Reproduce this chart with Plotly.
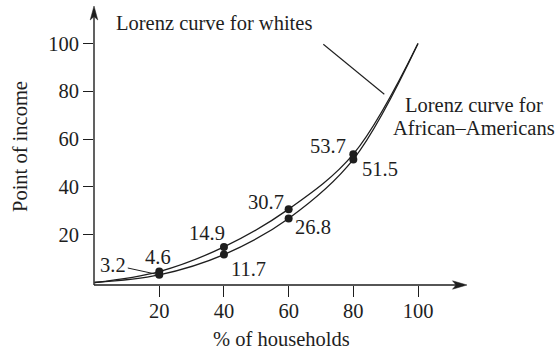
import plotly.graph_objects as go

# Cumulative share of income received by the poorest x% of households
pct_households = [0, 20, 40, 60, 80, 100]
income_whites = [0, 4.6, 14.9, 30.7, 53.7, 100]
income_black = [0, 3.2, 11.7, 26.8, 51.5, 100]
x_ticks = [20, 40, 60, 80, 100]
y_ticks = [20, 40, 60, 80, 100]

INK = "#1e1e1e"
FONT = "Liberation Serif"
FS = 20.5

W, H = 559, 350
ML, MR, MT, MB = 94, 89, 6, 65
PW, PH = W - ML - MR, H - MT - MB


def px_x(px):
    return (px - ML) / PW


def px_y(py):
    return (H - MB - py) / PH


fig = go.Figure()

for ys in (income_whites, income_black):
    fig.add_trace(go.Scatter(
        x=pct_households, y=ys, mode="lines",
        line=dict(color=INK, width=1.3, shape="spline", smoothing=1.0),
        hoverinfo="skip", showlegend=False, cliponaxis=False,
    ))
    fig.add_trace(go.Scatter(
        x=pct_households[1:-1], y=ys[1:-1], mode="markers",
        marker=dict(color=INK, size=8),
        showlegend=False, cliponaxis=False,
    ))

annotations = []


def note(**kw):
    base = dict(xanchor="center", yanchor="middle")
    base.update(kw)
    annotations.append(base)


# value labels: (xshift, yshift) relative to the dot
white_offsets = [(-1, 15), (-17, 14), (-23, 7), (-25, 8)]
black_offsets = [None, (25, -14), (24, -9), (27, -10)]

for i, (dx, dy) in enumerate(white_offsets):
    note(x=pct_households[i + 1], y=income_whites[i + 1], xref="x", yref="y",
         text=f"{income_whites[i + 1]}", showarrow=False, xshift=dx, yshift=dy)
for i, off in enumerate(black_offsets):
    if off is None:
        continue
    dx, dy = off
    note(x=pct_households[i + 1], y=income_black[i + 1], xref="x", yref="y",
         text=f"{income_black[i + 1]}", showarrow=False, xshift=dx, yshift=dy)
# first African-American value with a leader line to its dot
note(x=pct_households[1], y=income_black[1], xref="x", yref="y",
     text=f"{income_black[1]}", showarrow=True, arrowhead=0, arrowwidth=1,
     arrowcolor=INK, ax=-46, ay=-10, standoff=3)

# curve captions
note(x=px_x(213.7), y=px_y(23), xref="paper", yref="paper",
     text="Lorenz curve for whites", showarrow=False)
note(x=px_x(473.6), y=px_y(105), xref="paper", yref="paper",
     text="Lorenz curve for", showarrow=False)
note(x=px_x(473.6), y=px_y(128), xref="paper", yref="paper",
     text="African\u2013Americans", showarrow=False)

# axis titles
note(x=px_x(20), y=px_y(147), xref="paper", yref="paper",
     text="Point of income", textangle=-90, showarrow=False)
note(x=px_x(281), y=px_y(339), xref="paper", yref="paper", height=20,
     text="% of households", showarrow=False)

shapes = [
    # axes
    dict(type="line", xref="paper", yref="paper", x0=0, y0=0, x1=px_x(460), y1=0,
         line=dict(color=INK, width=1.4)),
    dict(type="line", xref="paper", yref="paper", x0=0, y0=0, x1=0, y1=px_y(14),
         line=dict(color=INK, width=1.4)),
    # leader to the whites curve
    dict(type="line", xref="paper", yref="paper",
         x0=px_x(323.3), y0=px_y(44.3), x1=px_x(384.3), y1=px_y(94.3),
         line=dict(color=INK, width=1.1)),
]


def head_path(points):
    parts = [f"{'M' if k == 0 else 'L'} {px_x(a):.5f} {px_y(b):.5f}" for k, (a, b) in enumerate(points)]
    return " ".join(parts) + " Z"


ox, oy = ML, H - MB
shapes.append(dict(type="path", xref="paper", yref="paper",
                   path=head_path([(467, oy), (452.5, oy - 4.2), (456, oy), (452.5, oy + 4.2)]),
                   fillcolor=INK, line=dict(color=INK, width=0.5)))
shapes.append(dict(type="path", xref="paper", yref="paper",
                   path=head_path([(ox, 6), (ox - 3.8, 20), (ox, 16.5), (ox + 3.8, 20)]),
                   fillcolor=INK, line=dict(color=INK, width=0.5)))

x_lo = (ML - 94.6) / 3.234
x_hi = (W - MR - 94.6) / 3.234
y_lo = (282.5 - (H - MB)) / 2.39
y_hi = (282.5 - MT) / 2.39

fig.update_layout(
    width=W, height=H,
    margin=dict(l=ML, r=MR, t=MT, b=MB, pad=0),
    paper_bgcolor="white", plot_bgcolor="white",
    font=dict(family=FONT, size=FS, color=INK),
    showlegend=False,
    annotations=annotations,
    shapes=shapes,
    xaxis=dict(range=[x_lo, x_hi], tickvals=x_ticks, ticktext=[str(v) for v in x_ticks],
               ticks="outside", ticklen=11, tickwidth=1.3, tickcolor=INK,
               ticklabelstandoff=-4,
               showline=False, showgrid=False, zeroline=False, fixedrange=True,
               tickfont=dict(family=FONT, size=FS, color=INK)),
    yaxis=dict(range=[y_lo, y_hi], tickvals=y_ticks, ticktext=[str(v) for v in y_ticks],
               ticks="outside", ticklen=10, tickwidth=1.3, tickcolor=INK,
               showline=False, showgrid=False, zeroline=False, fixedrange=True,
               tickfont=dict(family=FONT, size=FS, color=INK)),
)

fig.write_html("out.html")
